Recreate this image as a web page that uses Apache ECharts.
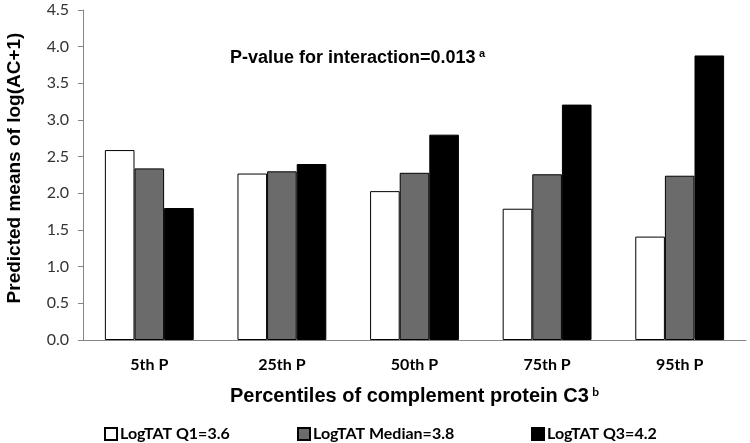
<!DOCTYPE html>
<html>
<head>
<meta charset="utf-8">
<script src="https://cdn.jsdelivr.net/npm/echarts@6/dist/echarts.min.js"></script>
<style>
  html, body { margin: 0; padding: 0; background: #fff; }
  #main { width: 750px; height: 443px; }
</style>
</head>
<body>
<div id="main"></div>
<script>
var categories = ['5th P', '25th P', '50th P', '75th P', '95th P'];
var q1Values = [2.59, 2.27, 2.03, 1.79, 1.41];
var medianValues = [2.34, 2.30, 2.28, 2.26, 2.24];
var q3Values = [1.80, 2.40, 2.80, 3.21, 3.88];
var seriesNames = ['LogTAT Q1=3.6', 'LogTAT Median=3.8', 'LogTAT Q3=4.2'];

var labelFont = 'Lato, "Open Sans", sans-serif';
var titleFont = '"Liberation Sans", Arial, sans-serif';

var myChart = echarts.init(document.getElementById('main'));

function barSeries (name, data, color) {
  return {
    name: name,
    type: 'bar',
    data: data,
    barGap: '0%',
    barCategoryGap: '33%',
    itemStyle: { color: color, borderColor: '#000', borderWidth: 1 }
  };
}

// one legend per entry so each sits where the original puts it
function legendAt (left, name) {
  return {
    left: left,
    top: 426,
    padding: 0,
    itemWidth: 12,
    itemHeight: 12,
    icon: 'rect',
    textStyle: { fontFamily: labelFont, fontWeight: 'bold', fontSize: 16, color: '#000', padding: [0, 0, 0, -2] },
    data: [name]
  };
}

var option = {
  animation: false,
  grid: { left: 83, right: 4, top: 10, bottom: 103 },
  legend: [
    legendAt(104, seriesNames[0]),
    legendAt(297, seriesNames[1]),
    legendAt(531, seriesNames[2])
  ],
  xAxis: {
    type: 'category',
    data: categories,
    axisLine: { lineStyle: { color: '#868686', width: 1 } },
    axisTick: { show: false },
    axisLabel: { fontFamily: labelFont, fontWeight: 'bold', fontSize: 16, color: '#000', margin: 17 },
    name: '{t|Percentiles of complement protein C3} {s|b}',
    nameLocation: 'middle',
    nameGap: 46,
    nameTextStyle: {
      rich: {
        t: { fontFamily: titleFont, fontWeight: 'bold', fontSize: 20, color: '#000' },
        s: { fontFamily: labelFont, fontWeight: 'bold', fontSize: 12, color: '#000', verticalAlign: 'top', padding: [0, 0, 8, 0] }
      }
    }
  },
  yAxis: {
    type: 'value',
    min: 0,
    max: 4.5,
    interval: 0.5,
    splitLine: { show: false },
    axisLine: { show: true, lineStyle: { color: '#868686', width: 1 } },
    axisTick: { show: true, length: 5, lineStyle: { color: '#868686' } },
    axisLabel: {
      fontFamily: labelFont, fontSize: 16, color: '#333', margin: 14,
      formatter: function (v) { return v.toFixed(1); }
    }
  },
  graphic: [
    {
      type: 'text',
      x: 15,
      y: 168,
      rotation: Math.PI / 2,
      style: {
        text: 'Predicted means of log(AC+1)',
        fontFamily: titleFont, fontWeight: 'bold', fontSize: 19, fill: '#000',
        align: 'center', verticalAlign: 'middle'
      }
    },
    {
      type: 'text',
      left: 230,
      top: 48,
      style: {
        text: '{t|P-value for interaction=0.013} {s|a}',
        rich: {
          t: { fontFamily: titleFont, fontWeight: 'bold', fontSize: 18, fill: '#000' },
          s: { fontFamily: titleFont, fontWeight: 'bold', fontSize: 11, fill: '#000', verticalAlign: 'top', padding: [0, 0, 9, 0] }
        }
      }
    }
  ],
  series: [
    barSeries(seriesNames[0], q1Values, '#ffffff'),
    barSeries(seriesNames[1], medianValues, '#6b6b6b'),
    barSeries(seriesNames[2], q3Values, '#000000')
  ]
};

myChart.setOption(option);
</script>
</body>
</html>
